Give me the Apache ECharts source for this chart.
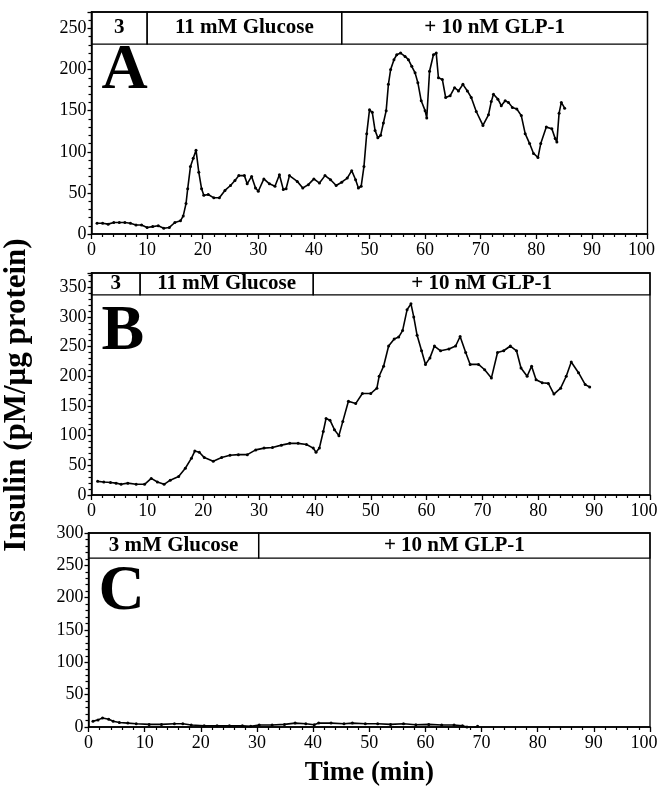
<!DOCTYPE html>
<html><head><meta charset="utf-8">
<script src="https://cdn.jsdelivr.net/npm/echarts@6/dist/echarts.min.js"></script>
<style>html,body{margin:0;padding:0;background:#fff}#c{width:662px;height:786px}</style>
</head><body><div id="c"></div>
<script>
// ---- Data ----
const xTicks = [0,10,20,30,40,50,60,70,80,90,100];

const timeA = [1,2,3,4,5,6,7,8,9,10,11,12,13,14,15,16,16.5,17,17.3,17.8,18.3,18.8,19.3,19.8,20.2,21,22,23,24,25,25.8,26.5,27.5,28,28.8,29.5,30,31,32,33,33.8,34.5,35,35.6,37,38,39,40,41,42,43,44,45,46,46.8,47.5,48,48.5,49,49.5,50,50.5,51,51.5,52,52.5,53,53.4,53.8,54.4,54.9,55.6,56.4,57,57.6,58.2,58.7,59.3,60,60.3,60.8,61.5,62,62.4,63.1,63.7,64.5,65.3,66,66.8,67.6,68.3,69.2,70.4,71.4,71.9,72.3,73.1,73.7,74.4,75,75.7,76.5,77.3,78,78.8,79.5,80.3,80.8,81.8,82.8,83.4,83.7,84.1,84.5,85.1];
const insulinA = [13,13,12,14,14,14,13,11,11,8,9,10,7,8,14,16,22,37,55,82,92,102,75,55,47,48,44,44,53,59,65,71,71,61,70,56,52,67,61,58,72,54,55,71,64,56,60,67,62,71,66,59,63,68,77,66,56,58,82,122,151,148,126,117,120,135,150,182,200,212,218,220,216,212,204,196,184,162,150,141,198,218,220,190,188,166,168,178,174,182,174,166,149,132,145,161,170,164,156,162,160,154,152,144,122,110,98,93,110,130,128,116,112,147,160,153];

const timeB = [1.1,2.2,3.4,4.4,5.3,6.5,8,9.5,10.7,11.8,13,14.1,15.6,16.8,17.9,18.5,19.3,20.2,21.8,23.3,24.8,26.3,27.9,29.4,30.9,32.4,34,35.5,37,38.5,39.7,40.2,40.8,41.5,42,42.7,43.5,44.3,45,46,47.3,48.5,50,51.1,51.5,52.3,53.2,54.2,55,55.7,56.5,57.2,57.7,58.3,59.1,59.8,60.6,61.4,62.5,64,65.2,66,67,67.8,69.3,70.4,71.6,72.7,73.8,75,76.1,76.9,78,78.8,79.6,80.7,81.8,82.8,84,85,85.9,87.2,88.4,89.2];
const insulinB = [23,22,21,20,18,20,18,18,28,22,18,25,31,45,62,74,72,63,57,63,67,68,68,76,79,80,84,87,87,85,79,72,79,107,129,126,110,100,124,158,154,171,171,180,200,217,251,263,266,277,312,322,300,269,243,220,231,251,243,246,251,267,240,220,220,211,197,240,243,251,243,214,200,217,194,189,188,170,180,200,224,206,186,182];

const timeC = [0.8,1.7,2.5,3.6,4.4,5.5,7,8.5,10.8,13,15.3,16.8,18.3,20.6,22.9,25.1,27.4,28.9,30.4,32.7,34.9,36.8,38.7,40.2,41,43.2,45.5,47,49.3,51.5,53.8,56.1,58.3,60.6,62.9,65.1,66.6,67.4,68.5,69.3];
const insulinC = [9,11,14,12,9,7,6,5,4,4,5,5,3,2,2,2,2,1,3,3,4,6,5,3.5,6,6,5,6,5,5,4,5,3.5,4,3,3,2,0,-1,1];

// header conditions [label, start, end] in minutes
const headerA = [['3',0,10],['11 mM Glucose',10,45],['+ 10 nM GLP-1',45,100]];
const headerB = [['3',0,8.7],['11 mM Glucose',8.7,39.7],['+ 10 nM GLP-1',39.7,100]];
const headerC = [['3 mM Glucose',0,30.3],['+ 10 nM GLP-1',30.3,100]];
const headerBand = [[231,270],[337,374],[261,300]]; // y-range of the header band per panel
const yMaxes = [270,374,300];
const panelLetters = ['A','B','C'];

// ---- Chart ----
const SERIF = '"Liberation Serif","DejaVu Serif",serif';
const grids = [
  {left:91.5, right:14.5, top:12, height:222},
  {left:91.5, right:12, top:273, height:222},
  {left:88.5, right:12, top:533, height:194}
];
const datasets = [[timeA,insulinA],[timeB,insulinB],[timeC,insulinC]];
const headers = [headerA,headerB,headerC];

const option = {
  animation:false,
  backgroundColor:'#fff',
  grid: grids.map(g => Object.assign({show:true, borderColor:'#000', borderWidth:1.3,
    backgroundColor:'transparent', containLabel:false, outerBoundsMode:'none'}, g)),
  title: panelLetters.map((L,i) => ({
    text:L, left: grids[i].left + 5, top: grids[i].top + 22,
    textStyle:{fontFamily:SERIF, fontWeight:'bold', fontSize:64, color:'#000'}
  })),
  xAxis: grids.map((g,i) => ({
    gridIndex:i, type:'value', min:0, max:100, interval:10,
    axisLine:{show:true, onZero:false, lineStyle:{color:'#000', width:1.5}},
    axisTick:{show:true, inside:false, length:5, lineStyle:{color:'#000', width:1.3}},
    minorTick:{show:true, splitNumber:5, length:3, lineStyle:{color:'#000', width:1.2}},
    splitLine:{show:false},
    axisLabel:{color:'#000', fontFamily:SERIF, fontSize:18, margin:7,
      formatter: v => xTicks.indexOf(v) < 0 ? '' : (v === 100 ? '{last|100}' : String(v)),
      rich:{last:{fontFamily:SERIF, fontSize:18, color:'#000', padding:[0,12,0,0]}}},
    name: i===2 ? 'Time (min)' : '', nameLocation:'middle', nameGap:33,
    nameTextStyle:{color:'#000', fontFamily:SERIF, fontWeight:'bold', fontSize:27}
  })),
  yAxis: grids.map((g,i) => ({
    gridIndex:i, type:'value', min:0, max:yMaxes[i], interval:50,
    axisLine:{show:true, lineStyle:{color:'#000', width:1.5}},
    axisTick:{show:true, inside:false, length:4, lineStyle:{color:'#000', width:1.3}},
    minorTick:{show:true, splitNumber:5, length:3, lineStyle:{color:'#000', width:1.2}},
    splitLine:{show:false},
    axisLabel:{color:'#000', fontFamily:SERIF, fontSize:18, margin:5,
      formatter: v => (v % 50 === 0) ? String(v) : ''}
  })),
  graphic:[{
    type:'text', x:17, y:395, rotation:Math.PI/2,
    style:{text:'Insulin (pM/\u03bcg protein)', fill:'#000', font:'bold 31px '+SERIF, textAlign:'center', textVerticalAlign:'middle'}
  }],
  series: datasets.map((d,i) => ({
    type:'line', xAxisIndex:i, yAxisIndex:i,
    data: d[0].map((t,k) => [t, d[1][k]]),
    showSymbol:true, symbol:'circle', symbolSize:3,
    lineStyle:{color:'#000', width:1.6}, itemStyle:{color:'#000'},
    markArea:{
      silent:true,
      itemStyle:{color:'rgba(255,255,255,0)', borderColor:'#000', borderWidth:1.3},
      label:{show:true, position:'inside', color:'#000', fontFamily:SERIF, fontWeight:'bold', fontSize:21},
      data: headers[i].map(h => [
        {name:h[0], xAxis:h[1], yAxis:headerBand[i][0]},
        {xAxis:h[2], yAxis:headerBand[i][1]}
      ])
    }
  }))
};
const chart = echarts.init(document.getElementById('c'), null, {renderer:'canvas'});
chart.setOption(option);
</script>
</body></html>
